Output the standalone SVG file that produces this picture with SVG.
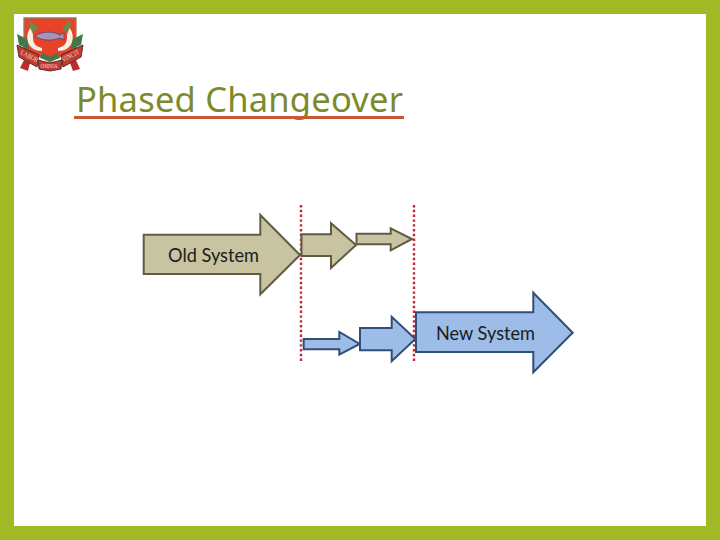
<svg xmlns="http://www.w3.org/2000/svg" width="720" height="540" viewBox="0 0 720 540">
<style>
.old{fill:#c8c3a0;stroke:#5f5c43;stroke-width:2;stroke-linejoin:miter}
.new{fill:#9dbce8;stroke:#2f4f78;stroke-width:2;stroke-linejoin:miter}
.lbl{font-family:"Lato","Noto Sans",sans-serif;font-size:18.5px;fill:#1c1c1c}
.dot{stroke:#c8243c;stroke-width:2.4;stroke-dasharray:2.4 2.4;fill:none}
.rib{fill:#c23a33;stroke:#4a2420;stroke-width:.9}
.ribt{font-family:"Liberation Serif",serif;font-size:7px;fill:#f3d9c8}
.grn{fill:#3f7a48}
</style>
<rect width="720" height="540" fill="#a2b926"/>
<rect x="14" y="14" width="692" height="512" fill="#ffffff"/>
<g id="crest">
<path d="M20 68L24 60L30 63L28 71Z" fill="#b8302c"/>
<path d="M80 69L76 60L70 63L73 71Z" fill="#b8302c"/>
<path d="M24 18H76V48L50 62L24 48Z" fill="#e6432a" stroke="#9c7a52" stroke-width="1.3"/>
<path d="M31 27C26 33 26 42 31 47C34 50 38 51 42 51L42 48C37 47 33 44 33 38C33 34 33 30 31 27Z" fill="#f6f1e2"/>
<path d="M69 27C74 33 74 42 69 47C66 50 62 51 58 51L58 48C63 47 67 44 67 38C67 34 67 30 69 27Z" fill="#f6f1e2"/>
<path d="M29 21C33 22 38 26 37 31C34 29 33 32 33 34C31 30 29 26 29 21Z" fill="#6d8a4c"/>
<path d="M71 21C67 22 62 26 63 31C66 29 67 32 67 34C69 30 71 26 71 21Z" fill="#6d8a4c"/>
<path d="M35 36C42 31 54 31 60 35L64 32.5V40L60 38C53 41 41 41 35 36Z" fill="#a594b8" stroke="#4f4468" stroke-width=".8"/>
<path d="M17 34L27 39L29 49L19 45Z" class="grn"/>
<path d="M83 34L73 39L71 49L81 45Z" class="grn"/>
<path d="M40 58L50 61L60 58L57 53L50 57L43 53Z" class="grn"/>
<path class="rib" d="M17 45L39 55L37 67L19 57Z"/>
<path class="rib" d="M83 45L61 55L63 67L81 57Z"/>
<path class="rib" d="M38 60L50 63L62 60L61 69L50 71L39 69Z"/>
<text class="ribt" transform="translate(20 54) rotate(27) scale(.8 1)">LABOR</text>
<text class="ribt" transform="translate(40.5 68) scale(.72 1)">OMNIA</text>
<text class="ribt" transform="translate(63 62) rotate(-27) scale(.8 1)">VINCIT</text>
</g>
<g id="title">
<text x="76" y="112" font-family="'Noto Sans','Open Sans',sans-serif" font-size="34.5" fill="#7d8a2c" textLength="327" lengthAdjust="spacing">Phased Changeover</text>
<rect x="74" y="116" width="330" height="3" fill="#c55a38"/>
</g>
<g id="connectors">
<line class="dot" x1="301" y1="205" x2="301" y2="361"/>
<line class="dot" x1="414" y1="205" x2="414" y2="361"/>
</g>
<g id="old-system">
<path class="old" d="M143.7 234.7H260.3V215L300 255L260.3 294.3V274H143.7Z"/>
<text class="lbl" x="168" y="262" textLength="91" lengthAdjust="spacingAndGlyphs">Old System</text>
</g>
<g id="old-phase-2"><path class="old" d="M301.5 234.3H331V223.3L356 245L331 268V256H301.5Z"/></g>
<g id="old-phase-3"><path class="old" d="M356.5 233.7H390.7V228.3L412 239L390.7 250.3V244.3H356.5Z"/></g>
<g id="new-phase-1"><path class="new" d="M303.7 339H339.3V332L359.7 344L339.3 354.7V349.3H303.7Z"/></g>
<g id="new-phase-2"><path class="new" d="M360 328H391.7V316.7L415.3 339L391.7 361.3V350.3H360Z"/></g>
<g id="new-system">
<path class="new" d="M416 312.3H533.3V292.7L572.7 332.7L533.3 372.3V352H416Z"/>
<text class="lbl" x="436" y="340" textLength="99" lengthAdjust="spacingAndGlyphs">New System</text>
</g>
</svg>
